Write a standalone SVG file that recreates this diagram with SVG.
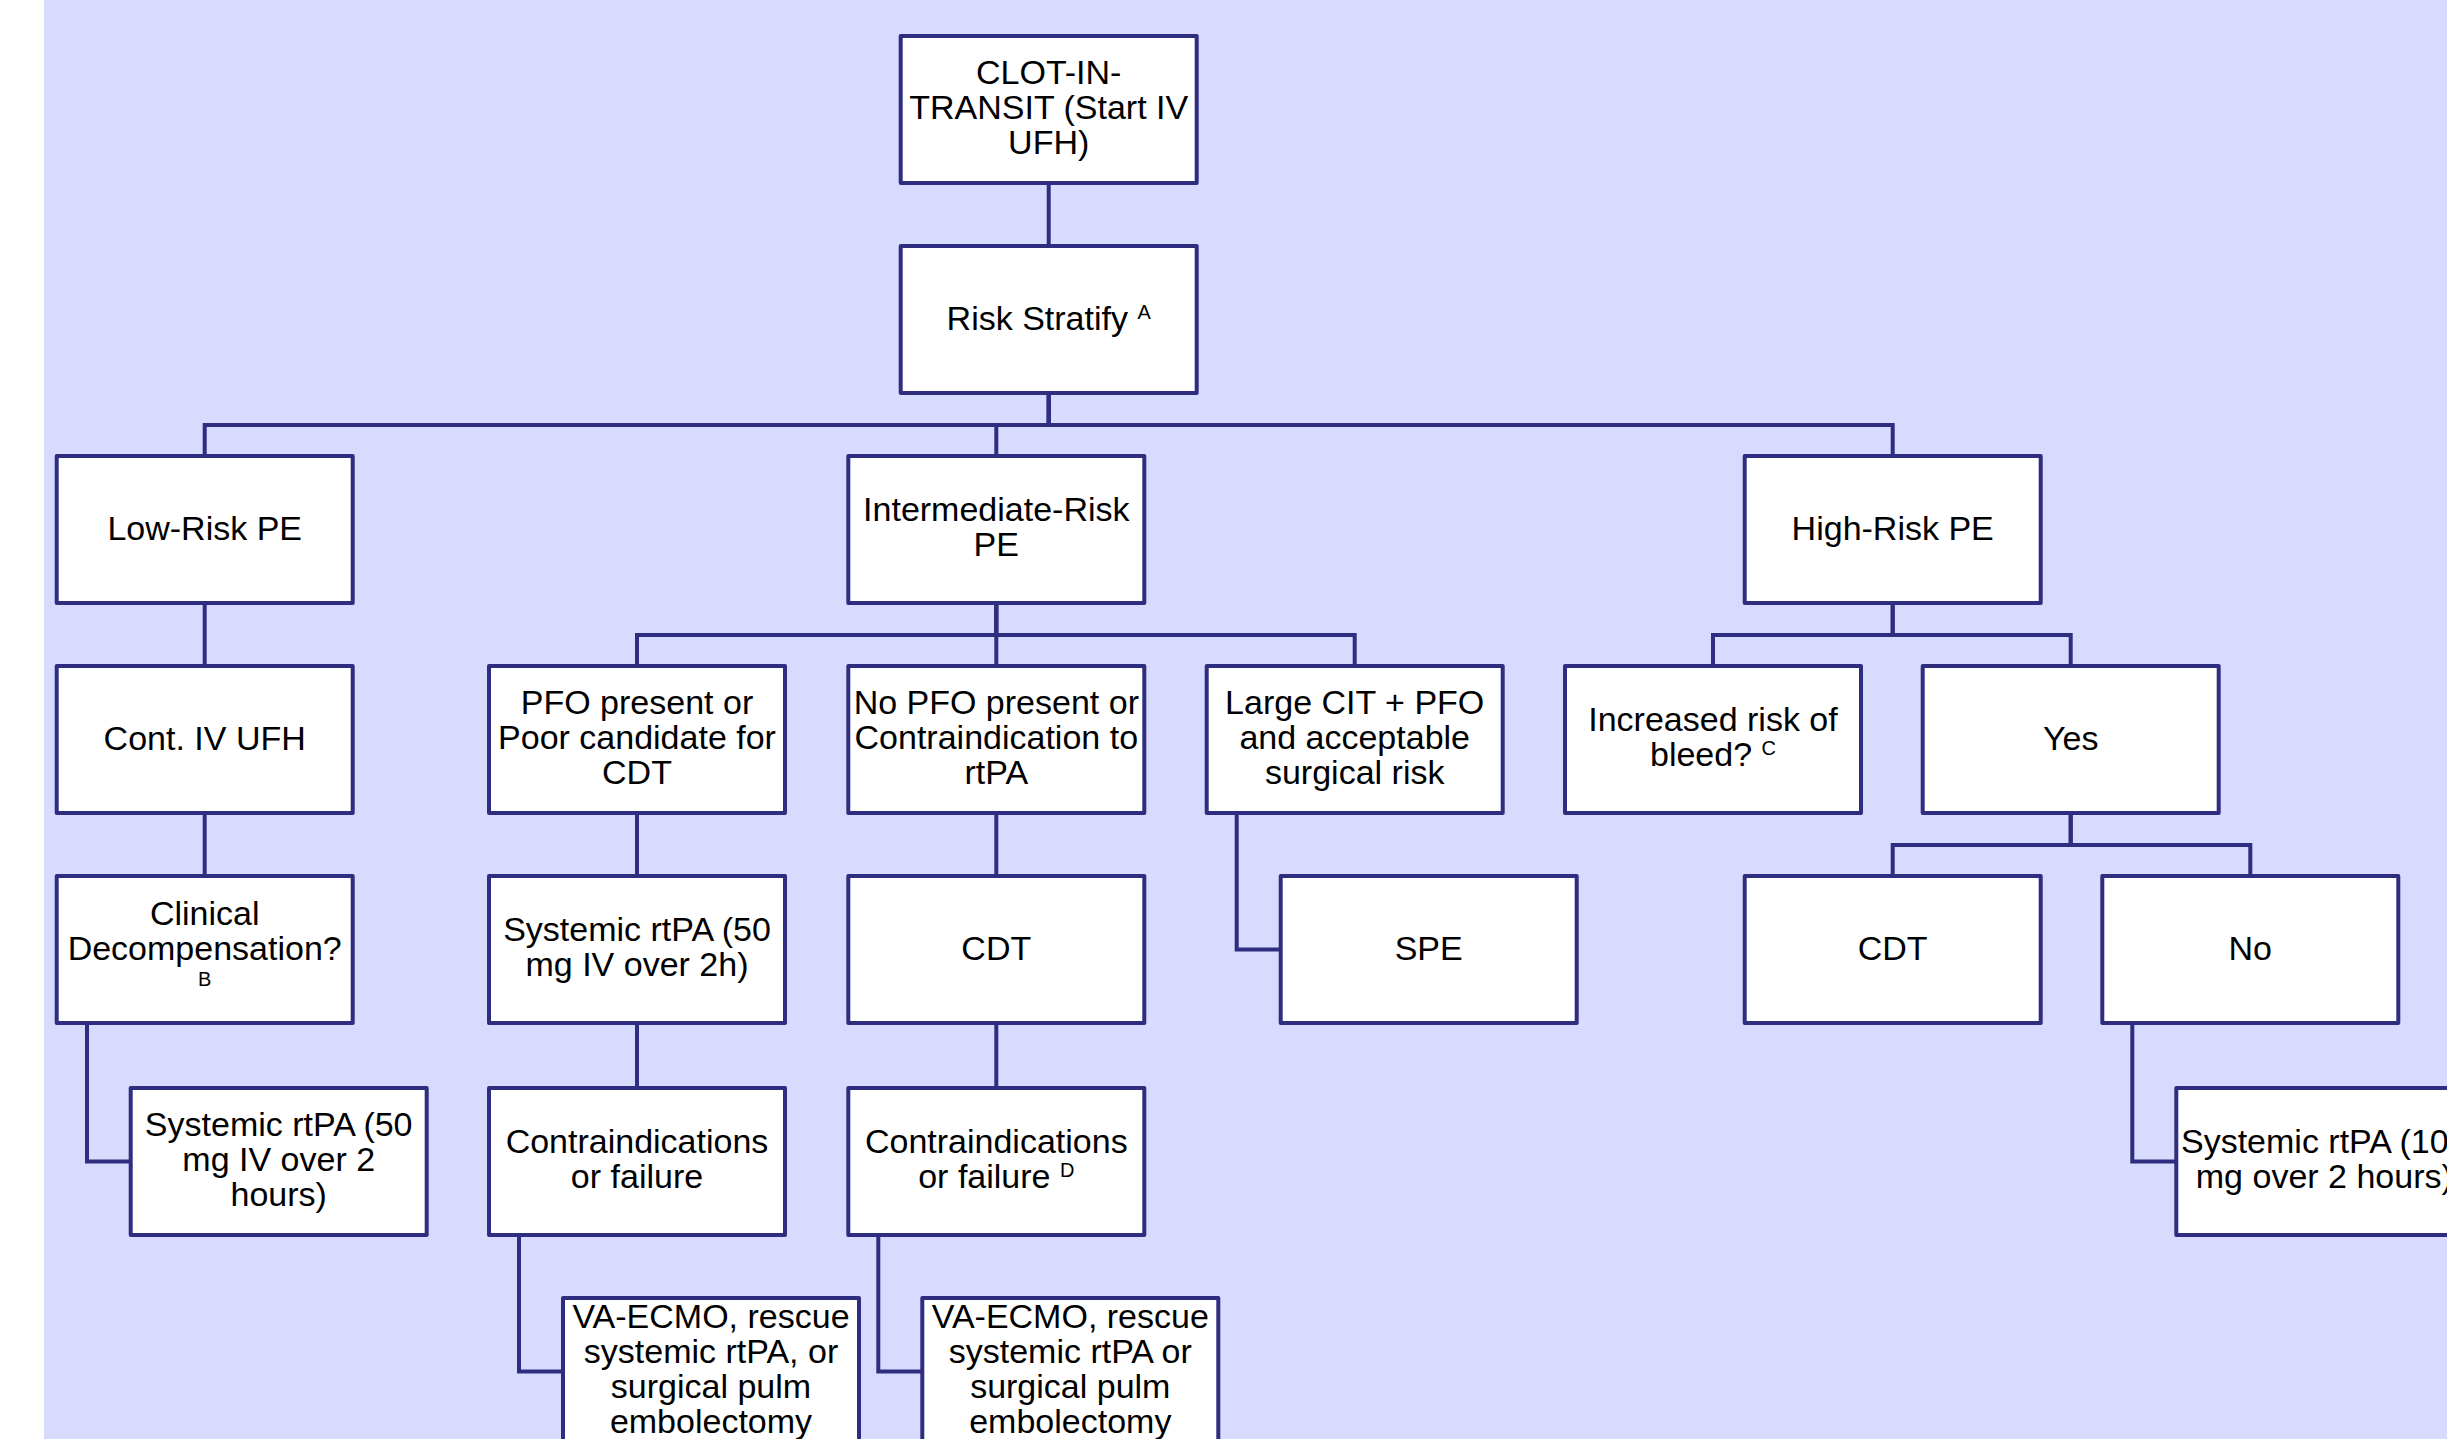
<svg xmlns="http://www.w3.org/2000/svg" width="2447" height="1439" viewBox="0 0 2447 1439">
<style>
.box{fill:#ffffff;stroke:#2E2D80;stroke-width:4;stroke-linejoin:round}
.con{fill:none;stroke:#2E2D80;stroke-width:4;stroke-linejoin:miter}
.t{font-family:"Liberation Sans",Arial,sans-serif;font-size:34px;fill:#000000;text-anchor:middle}
.sup{font-size:20px}
</style>
<rect x="0" y="0" width="2447" height="1439" fill="#ffffff"/>
<rect x="44" y="0" width="2403" height="1439" fill="#D9DBFE"/>
<g id="connectors">
<path class="con" d="M1048.7 183 V246"/>
<path class="con" d="M1048.7 393 V425 H204.7 V456"/>
<path class="con" d="M1048.7 393 V425 H996.3 V456"/>
<path class="con" d="M1048.7 393 V425 H1892.7 V456"/>
<path class="con" d="M204.7 603 V666"/>
<path class="con" d="M204.7 813 V876"/>
<path class="con" d="M87 1023 V1161.5 H131"/>
<path class="con" d="M996.3 603 V635 H637 V666"/>
<path class="con" d="M996.3 603 V666"/>
<path class="con" d="M996.3 603 V635 H1354.7 V666"/>
<path class="con" d="M637 813 V876"/>
<path class="con" d="M637 1023 V1088"/>
<path class="con" d="M519 1235 V1371.5 H563"/>
<path class="con" d="M996.3 813 V876"/>
<path class="con" d="M996.3 1023 V1088"/>
<path class="con" d="M878.3 1235 V1371.5 H922.3"/>
<path class="con" d="M1236.7 813 V949.5 H1280.7"/>
<path class="con" d="M1892.7 603 V635 H1713 V666"/>
<path class="con" d="M1892.7 603 V635 H2070.7 V666"/>
<path class="con" d="M2070.7 813 V845 H1892.7 V876"/>
<path class="con" d="M2070.7 813 V845 H2250.3 V876"/>
<path class="con" d="M2132.3 1023 V1161.5 H2176.3"/>
</g>
<g id="n-clot"><rect class="box" x="900.7" y="36" width="296" height="147"/>
<text class="t" x="1048.7" y="84">CLOT-IN-</text><text class="t" x="1048.7" y="119">TRANSIT (Start IV</text><text class="t" x="1048.7" y="154">UFH)</text></g>
<g id="n-risk"><rect class="box" x="900.7" y="246" width="296" height="147"/>
<text class="t" x="1048.7" y="330">Risk Stratify <tspan class="sup" dy="-11">A</tspan></text></g>
<g id="n-low"><rect class="box" x="56.7" y="456" width="296" height="147"/>
<text class="t" x="204.7" y="540">Low-Risk PE</text></g>
<g id="n-int"><rect class="box" x="848.3" y="456" width="296" height="147"/>
<text class="t" x="996.3" y="521">Intermediate-Risk</text><text class="t" x="996.3" y="556">PE</text></g>
<g id="n-high"><rect class="box" x="1744.7" y="456" width="296" height="147"/>
<text class="t" x="1892.7" y="540">High-Risk PE</text></g>
<g id="n-cont"><rect class="box" x="56.7" y="666" width="296" height="147"/>
<text class="t" x="204.7" y="750">Cont. IV UFH</text></g>
<g id="n-pfo"><rect class="box" x="489" y="666" width="296" height="147"/>
<text class="t" x="637" y="714">PFO present or</text><text class="t" x="637" y="749">Poor candidate for</text><text class="t" x="637" y="784">CDT</text></g>
<g id="n-nopfo"><rect class="box" x="848.3" y="666" width="296" height="147"/>
<text class="t" x="996.3" y="714">No PFO present or</text><text class="t" x="996.3" y="749">Contraindication to</text><text class="t" x="996.3" y="784">rtPA</text></g>
<g id="n-large"><rect class="box" x="1206.7" y="666" width="296" height="147"/>
<text class="t" x="1354.7" y="714">Large CIT + PFO</text><text class="t" x="1354.7" y="749">and acceptable</text><text class="t" x="1354.7" y="784">surgical risk</text></g>
<g id="n-incr"><rect class="box" x="1565" y="666" width="296" height="147"/>
<text class="t" x="1713" y="731">Increased risk of</text><text class="t" x="1713" y="766">bleed? <tspan class="sup" dy="-11">C</tspan></text></g>
<g id="n-yes"><rect class="box" x="1922.7" y="666" width="296" height="147"/>
<text class="t" x="2070.7" y="750">Yes</text></g>
<g id="n-clin"><rect class="box" x="56.7" y="876" width="296" height="147"/>
<text class="t" x="204.7" y="925">Clinical</text><text class="t" x="204.7" y="960">Decompensation?</text><text class="t sup" x="204.7" y="986">B</text></g>
<g id="n-sys2h"><rect class="box" x="489" y="876" width="296" height="147"/>
<text class="t" x="637" y="941">Systemic rtPA (50</text><text class="t" x="637" y="976">mg IV over 2h)</text></g>
<g id="n-cdt1"><rect class="box" x="848.3" y="876" width="296" height="147"/>
<text class="t" x="996.3" y="960">CDT</text></g>
<g id="n-spe"><rect class="box" x="1280.7" y="876" width="296" height="147"/>
<text class="t" x="1428.7" y="960">SPE</text></g>
<g id="n-cdt2"><rect class="box" x="1744.7" y="876" width="296" height="147"/>
<text class="t" x="1892.7" y="960">CDT</text></g>
<g id="n-no"><rect class="box" x="2102.3" y="876" width="296" height="147"/>
<text class="t" x="2250.3" y="960">No</text></g>
<g id="n-sys50"><rect class="box" x="130.7" y="1088" width="296" height="147"/>
<text class="t" x="278.7" y="1136">Systemic rtPA (50</text><text class="t" x="278.7" y="1171">mg IV over 2</text><text class="t" x="278.7" y="1206">hours)</text></g>
<g id="n-contra1"><rect class="box" x="489" y="1088" width="296" height="147"/>
<text class="t" x="637" y="1153">Contraindications</text><text class="t" x="637" y="1188">or failure</text></g>
<g id="n-contra2"><rect class="box" x="848.3" y="1088" width="296" height="147"/>
<text class="t" x="996.3" y="1153">Contraindications</text><text class="t" x="996.3" y="1188">or failure <tspan class="sup" dy="-11">D</tspan></text></g>
<g id="n-sys100"><rect class="box" x="2176.3" y="1088" width="296" height="147"/>
<text class="t" x="2324.3" y="1153">Systemic rtPA (100</text><text class="t" x="2324.3" y="1188">mg over 2 hours)</text></g>
<g id="n-va1"><rect class="box" x="563" y="1298" width="296" height="147"/>
<text class="t" x="711" y="1328">VA-ECMO, rescue</text><text class="t" x="711" y="1363">systemic rtPA, or</text><text class="t" x="711" y="1398">surgical pulm</text><text class="t" x="711" y="1433">embolectomy</text></g>
<g id="n-va2"><rect class="box" x="922.3" y="1298" width="296" height="147"/>
<text class="t" x="1070.3" y="1328">VA-ECMO, rescue</text><text class="t" x="1070.3" y="1363">systemic rtPA or</text><text class="t" x="1070.3" y="1398">surgical pulm</text><text class="t" x="1070.3" y="1433">embolectomy</text></g>
</svg>
